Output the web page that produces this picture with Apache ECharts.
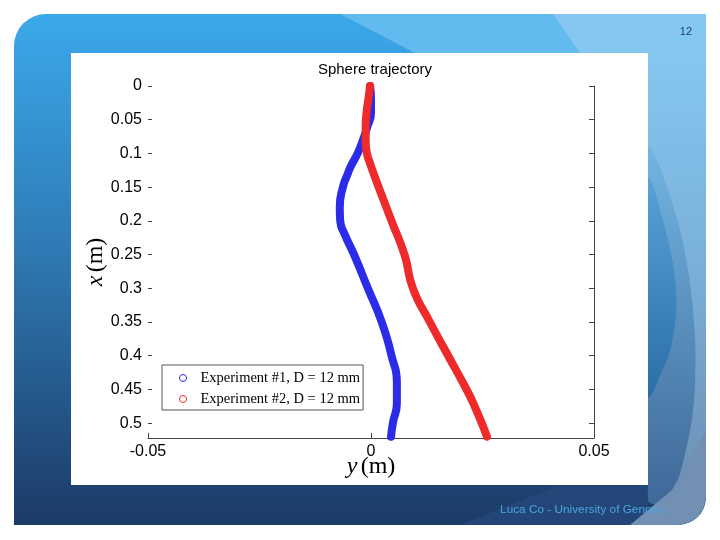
<!DOCTYPE html>
<html><head><meta charset="utf-8">
<script src="https://cdn.jsdelivr.net/npm/echarts@6/dist/echarts.min.js"></script>
<style>html,body{margin:0;padding:0;background:#fff}#c{width:720px;height:540px}</style>
</head><body><div id="c"></div>
<script>
const chartTitle = 'Sphere trajectory';
const seriesNames = ['Experiment #1, D = 12 mm', 'Experiment #2, D = 12 mm'];
// depth x (m) along the vertical axis, lateral y (m) along the horizontal axis
const exp1Depth   = [0, 0.02, 0.04, 0.06, 0.08, 0.10, 0.12, 0.13, 0.15, 0.18, 0.20, 0.22, 0.25, 0.30, 0.35, 0.40, 0.44, 0.47, 0.50, 0.52];
const exp1Lateral = [-0.0002, 0.0000, 0.0000, -0.0008, -0.0018, -0.0030, -0.0046, -0.0052, -0.0063, -0.0070, -0.0069, -0.0059, -0.0038, -0.0007, 0.0024, 0.0046, 0.0058, 0.0058, 0.0049, 0.0045];
const exp2Depth   = [0, 0.02, 0.04, 0.06, 0.08, 0.10, 0.115, 0.13, 0.155, 0.20, 0.25, 0.30, 0.35, 0.40, 0.44, 0.47, 0.52];
const exp2Lateral = [-0.0002, -0.0006, -0.0010, -0.0012, -0.0012, -0.0009, -0.0002, 0.0006, 0.0020, 0.0046, 0.0075, 0.0094, 0.0132, 0.0173, 0.0206, 0.0229, 0.0260];
const lateralMin = -0.05, lateralMax = 0.05, lateralStep = 0.05;
const depthMin = 0, depthMax = 0.522, depthStep = 0.05;
const pageNumber = '12';
const footerText = 'Luca Co - University of Genova';

const seriesColors = ['#2b2be8', '#ee2a2a'];

function pairs(lat, dep) { return lat.map((v, i) => [v, dep[i]]); }

const chart = echarts.init(document.getElementById('c'), null, {renderer: 'canvas'});

const fmtDepth = v => {
  const k = v / depthStep;
  if (Math.abs(k - Math.round(k)) > 1e-6) return '';
  return String(parseFloat(v.toFixed(2)));
};

const bg = [
  {type: 'rect', z: -20, shape: {x: 14, y: 14, width: 692, height: 511, r: [32, 0, 28, 0]},
   style: {fill: {type: 'linear', x: 0, y: 0, x2: 0, y2: 1, colorStops: [
     {offset: 0, color: '#3ba9ea'}, {offset: 0.45, color: '#2f7bb6'}, {offset: 1, color: '#1c3a66'}]}}},
  {type: 'polygon', z: -19, shape: {points: [[340, 14], [706, 14], [706, 53], [415, 53]]}, style: {fill: '#62bbee'}},
  {type: 'polygon', z: -19, shape: {points: [[553, 14], [706, 14], [706, 53], [580, 53]]}, style: {fill: '#84c7f0'}},
  {type: 'rect', z: -19, shape: {x: 648, y: 53, width: 58, height: 440},
   style: {fill: {type: 'linear', x: 0, y: 0, x2: 0, y2: 1, colorStops: [
     {offset: 0, color: '#84c7f0'}, {offset: 0.5, color: '#7aafd8'}, {offset: 1, color: '#6d8fb4'}]}}},
  {type: 'polygon', z: -18, shape: {smooth: 0.35, points: [[648, 150], [676, 215], [692, 300], [695, 385], [686, 450], [668, 500], [648, 500]]},
   style: {fill: {type: 'linear', x: 0, y: 0, x2: 0, y2: 1, colorStops: [
     {offset: 0, color: '#72b5e2'}, {offset: 1, color: '#3f6897'}]}}},
  {type: 'polygon', z: -17, shape: {smooth: 0.4, points: [[648, 180], [666, 232], [676, 292], [672, 342], [660, 376], [648, 396]]},
   style: {fill: {type: 'linear', x: 0, y: 0, x2: 0, y2: 1, colorStops: [
     {offset: 0, color: '#58a2d8'}, {offset: 1, color: '#2a6ea7'}]}}},
  {type: 'polygon', z: -18, shape: {points: [[460, 525], [560, 485], [648, 485], [648, 525]]}, style: {fill: '#26477a', opacity: 0.8}},
  {type: 'polygon', z: -16, shape: {points: [[630, 525], [672, 490], [706, 430], [706, 497], [704, 507], [698, 517], [688, 523], [678, 525]]},
   style: {fill: '#7190b4'}},
  {type: 'rect', z: -15, shape: {x: 71, y: 53, width: 577, height: 432}, style: {fill: '#ffffff'}},
  {type: 'text', z: 10, style: {x: 692, y: 32, text: pageNumber, fill: '#1f3f6a', font: '11px "Liberation Sans"', textAlign: 'right', textVerticalAlign: 'middle'}},
  {type: 'text', z: 10, style: {x: 664, y: 510, text: footerText, fill: '#4ba6e0', font: '11.8px "Liberation Sans"', textAlign: 'right', textVerticalAlign: 'middle'}}
];

const nameRich = {
  i: {fontFamily: 'Liberation Serif', fontStyle: 'italic', fontSize: 24, color: '#000'},
  r: {fontFamily: 'Liberation Serif', fontSize: 24, color: '#000'}
};

const option = {
  animation: false,
  backgroundColor: 'transparent',
  graphic: {elements: bg},
  title: {text: chartTitle, left: 370, top: 57, textAlign: 'center',
    textStyle: {fontFamily: 'Liberation Sans', fontSize: 15, fontWeight: 'normal', color: '#000'}},
  grid: {left: 148, right: 126, top: 86, bottom: 102, containLabel: false},
  legend: {
    orient: 'vertical', left: 162, top: 365, icon: 'circle', itemWidth: 7, itemHeight: 7, itemGap: 5,
    padding: [5, 3, 3, 17], backgroundColor: '#fff', borderColor: '#555', borderWidth: 1, borderRadius: 0,
    textStyle: {fontFamily: 'Liberation Serif', fontSize: 14.5, color: '#000', lineHeight: 16, padding: [0, 0, 0, 9]},
    data: seriesNames.map((n, i) => ({name: n, itemStyle: {color: '#fff', borderColor: seriesColors[i], borderWidth: 1}}))
  },
  xAxis: {
    type: 'value', min: lateralMin, max: lateralMax, interval: lateralStep, position: 'bottom',
    axisLine: {show: true, onZero: false, lineStyle: {color: '#444', width: 1}},
    axisTick: {show: true, inside: true, length: 5, lineStyle: {color: '#444'}},
    axisLabel: {fontFamily: 'Liberation Sans', fontSize: 16, color: '#000', margin: 6},
    splitLine: {show: false},
    name: '{i|y} {r|(m)}', nameLocation: 'middle', nameGap: 17, nameMoveOverlap: false, nameTextStyle: {rich: nameRich}
  },
  yAxis: [{
    type: 'value', inverse: true, min: depthMin, max: depthMax, interval: depthStep, position: 'left',
    axisLine: {show: false, onZero: false},
    axisTick: {show: true, inside: true, length: 4, lineStyle: {color: '#444'}},
    axisLabel: {fontFamily: 'Liberation Sans', fontSize: 16, color: '#000', margin: 6, formatter: fmtDepth, showMaxLabel: false},
    splitLine: {show: false},
    name: '{i|x} {r|(m)}', nameLocation: 'middle', nameRotate: 90, nameGap: 40, nameMoveOverlap: false, nameTextStyle: {rich: nameRich}
  }, {
    type: 'value', inverse: true, min: depthMin, max: depthMax, interval: depthStep, position: 'right',
    axisLine: {show: true, onZero: false, lineStyle: {color: '#444', width: 1}},
    axisTick: {show: true, inside: true, length: 5, lineStyle: {color: '#444'}},
    axisLabel: {show: false}, splitLine: {show: false}
  }],
  series: [
    {name: seriesNames[0], type: 'line', smooth: 0.55, showSymbol: false, data: pairs(exp1Lateral, exp1Depth),
     color: seriesColors[0], lineStyle: {width: 8, color: seriesColors[0], cap: 'round', join: 'round'}},
    {name: seriesNames[1], type: 'line', smooth: 0.55, showSymbol: false, data: pairs(exp2Lateral, exp2Depth),
     color: seriesColors[1], lineStyle: {width: 8, color: seriesColors[1], cap: 'round', join: 'round'}}
  ]
};
chart.setOption(option);
</script></body></html>
